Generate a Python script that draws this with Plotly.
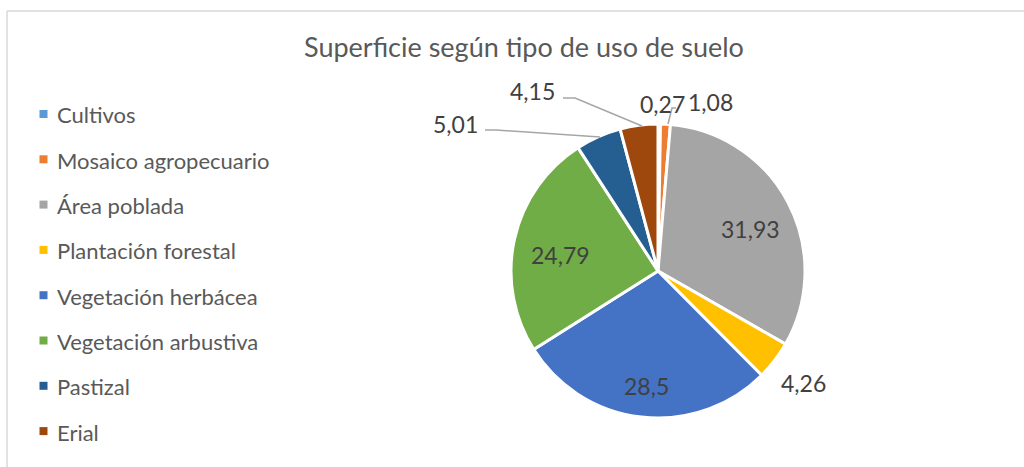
import plotly.graph_objects as go

# ---- data ----
categories = ["Cultivos", "Mosaico agropecuario", "Área poblada", "Plantación forestal",
              "Vegetación herbácea", "Vegetación arbustiva", "Pastizal", "Erial"]
values = [0.27, 1.08, 31.93, 4.26, 28.5, 24.79, 5.01, 4.15]
colors = ["#5B9BD5", "#ED7D31", "#A5A5A5", "#FFC000", "#4472C4", "#70AD47", "#255E91", "#9E480E"]
title_text = "Superficie según tipo de uso de suelo"

W, H = 1024, 467
FONT = "Lato"

def px(x):
    return x / W

def py(y):
    return 1 - y / H

# pie geometry (pixels)
cx, cy, R = 658, 271, 147

fig = go.Figure()
fig.add_trace(go.Pie(
    labels=categories, values=values, sort=False, direction="clockwise", rotation=0,
    marker=dict(colors=colors, line=dict(color="white", width=3)),
    textinfo="none", hoverinfo="label+value", showlegend=False,
    domain=dict(x=[px(cx - R), px(cx + R)], y=[py(cy + R), py(cy - R)]),
))

def fmt(v):
    return f"{v:g}".replace(".", ",")

# data label positions (pixels), by category
label_pos = {
    "Cultivos": (662, 104),
    "Mosaico agropecuario": (710, 102),
    "Área poblada": (750, 229),
    "Plantación forestal": (803, 383),
    "Vegetación herbácea": (646, 386),
    "Vegetación arbustiva": (560, 255),
    "Pastizal": (455, 124),
    "Erial": (532, 91),
}
annotations = []
for cat, v in zip(categories, values):
    x, y = label_pos[cat]
    annotations.append(dict(x=px(x), y=py(y), xref="paper", yref="paper", text=fmt(v),
                            showarrow=False, xanchor="center", yanchor="middle",
                            font=dict(family=FONT, size=23, color="#404040")))

# title
annotations.append(dict(x=px(524), y=py(47), xref="paper", yref="paper", text=title_text,
                        showarrow=False, xanchor="center", yanchor="middle",
                        font=dict(family=FONT, size=27, color="#595959")))

shapes = []
# legend (manual)
for i, (cat, col) in enumerate(zip(categories, colors)):
    yc = 114 + 45.3 * i
    shapes.append(dict(type="rect", xref="paper", yref="paper",
                       x0=px(39.5), x1=px(47.5), y0=py(yc + 4), y1=py(yc - 4),
                       fillcolor=col, line=dict(width=0)))
    annotations.append(dict(x=px(55), y=py(yc + 1), xref="paper", yref="paper", text=cat,
                            showarrow=False, xanchor="left", yanchor="middle",
                            font=dict(family=FONT, size=22, color="#595959")))

# leader lines
leaders = [
    [(563, 98), (575, 98), (642, 126)],
    [(485, 130), (496, 130), (600, 137)],
    [(676, 108), (672, 108), (668, 124)],
]
for pts in leaders:
    path = "M " + " L ".join(f"{px(x)},{py(y)}" for x, y in pts)
    shapes.append(dict(type="path", xref="paper", yref="paper", path=path,
                       line=dict(color="#A6A6A6", width=1.5)))

# chart border (cropped)
shapes.append(dict(type="line", xref="paper", yref="paper", x0=px(7), x1=1.01, y0=py(11), y1=py(11),
                   line=dict(color="#D9D9D9", width=1.5)))
shapes.append(dict(type="line", xref="paper", yref="paper", x0=px(7), x1=px(7), y0=py(11), y1=-0.01,
                   line=dict(color="#D9D9D9", width=1.5)))

fig.update_layout(
    width=W, height=H, margin=dict(l=0, r=0, t=0, b=0),
    paper_bgcolor="white", plot_bgcolor="white",
    annotations=annotations, shapes=shapes, showlegend=False,
)
fig.write_html("out.html", config={"displayModeBar": False},
               post_script="document.body.style.margin='0px';document.body.style.overflow='hidden';")
